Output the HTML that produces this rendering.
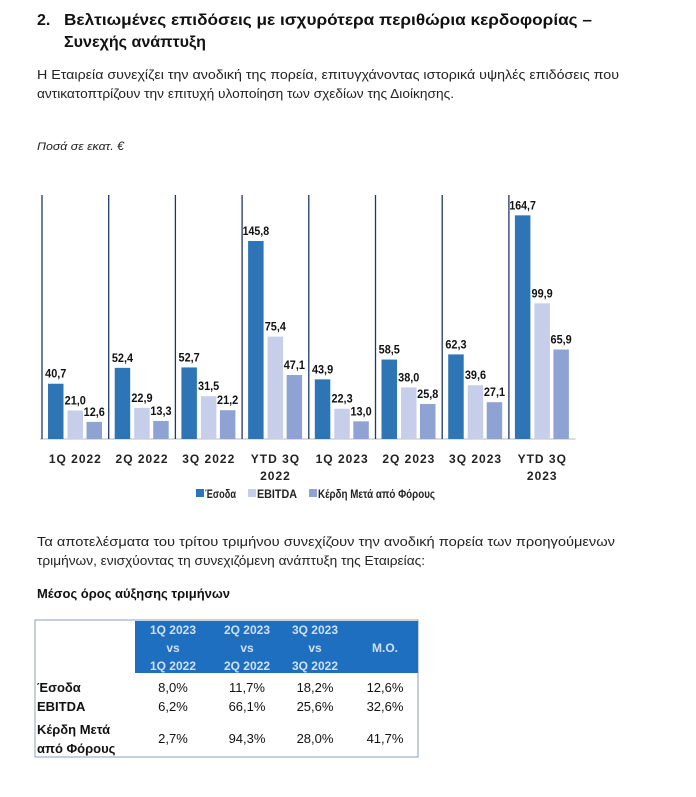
<!DOCTYPE html>
<html><head><meta charset="utf-8"><style>
body{margin:0;background:#fff}
svg{display:block}
text{font-family:"Liberation Sans",sans-serif}
.n{font-family:"Liberation Sans Narrow","Liberation Sans",sans-serif}
</style></head><body>
<svg id="c" width="696" height="797" viewBox="0 0 696 797" xmlns="http://www.w3.org/2000/svg">
<text x="37" y="25" font-size="16" font-weight="bold" fill="#111">2.</text>
<text x="64" y="25" font-size="16" font-weight="bold" fill="#111" textLength="528" lengthAdjust="spacingAndGlyphs">Βελτιωμένες επιδόσεις με ισχυρότερα περιθώρια κερδοφορίας –</text>
<text x="64" y="47" font-size="16" font-weight="bold" fill="#111" textLength="142" lengthAdjust="spacingAndGlyphs">Συνεχής ανάπτυξη</text>
<text x="37" y="79" font-size="12.5" fill="#222" textLength="582" lengthAdjust="spacingAndGlyphs">Η Εταιρεία συνεχίζει την ανοδική της πορεία, επιτυγχάνοντας ιστορικά υψηλές επιδόσεις που</text>
<text x="37" y="98" font-size="12.5" fill="#222" textLength="417" lengthAdjust="spacingAndGlyphs">αντικατοπτρίζουν την επιτυχή υλοποίηση των σχεδίων της Διοίκησης.</text>
<text x="37" y="150" font-size="11.5" font-style="italic" fill="#222" textLength="87" lengthAdjust="spacingAndGlyphs">Ποσά σε εκατ. €</text>
<g id="chart"></g>
<text x="37" y="546" font-size="12.5" fill="#222" textLength="578" lengthAdjust="spacingAndGlyphs">Τα αποτελέσματα του τρίτου τριμήνου συνεχίζουν την ανοδική πορεία των προηγούμενων</text>
<text x="37" y="565" font-size="12.5" fill="#222" textLength="388" lengthAdjust="spacingAndGlyphs">τριμήνων, ενισχύοντας τη συνεχιζόμενη ανάπτυξη της Εταιρείας:</text>
<text x="37" y="598" font-size="12.5" font-weight="bold" fill="#111" textLength="193" lengthAdjust="spacingAndGlyphs">Μέσος όρος αύξησης τριμήνων</text>
<g>
<rect x="35" y="620" width="383" height="137" fill="none" stroke="#8aa0c0" stroke-width="1"/>
<rect x="135" y="621" width="283" height="52" fill="#1f6fc0"/>
<g font-size="12" font-weight="bold" fill="#cfe0f5" text-anchor="middle">
<text x="173" y="634"><tspan x="173">1Q 2023</tspan><tspan x="173" dy="18">vs</tspan><tspan x="173" dy="18">1Q 2022</tspan></text>
<text x="247" y="634"><tspan x="247">2Q 2023</tspan><tspan x="247" dy="18">vs</tspan><tspan x="247" dy="18">2Q 2022</tspan></text>
<text x="315" y="634"><tspan x="315">3Q 2023</tspan><tspan x="315" dy="18">vs</tspan><tspan x="315" dy="18">3Q 2022</tspan></text>
<text x="385" y="652">M.O.</text>
</g>
<g font-size="13" fill="#111">
<text x="37" y="692" font-weight="bold">Έσοδα</text>
<text x="37" y="711" font-weight="bold">EBITDA</text>
<text x="37" y="734" font-weight="bold">Κέρδη Μετά</text>
<text x="37" y="753" font-weight="bold">από Φόρους</text>
<g text-anchor="middle">
<text x="173" y="692">8,0%</text><text x="247" y="692">11,7%</text><text x="315" y="692">18,2%</text><text x="385" y="692">12,6%</text>
<text x="173" y="711">6,2%</text><text x="247" y="711">66,1%</text><text x="315" y="711">25,6%</text><text x="385" y="711">32,6%</text>
<text x="173" y="743">2,7%</text><text x="247" y="743">94,3%</text><text x="315" y="743">28,0%</text><text x="385" y="743">41,7%</text>
</g></g></g>
</svg>
<script>
const categories=[["1Q 2022"],["2Q 2022"],["3Q 2022"],["YTD 3Q","2022"],["1Q 2023"],["2Q 2023"],["3Q 2023"],["YTD 3Q","2023"]];
const revenue=[40.7,52.4,52.7,145.8,43.9,58.5,62.3,164.7];
const ebitda=[21.0,22.9,31.5,75.4,22.3,38.0,39.6,99.9];
const profit=[12.6,13.3,21.2,47.1,13.0,25.8,27.1,65.9];
const seriesNames=["Έσοδα","EBITDA","Κέρδη Μετά από Φόρους"];
const NS="http://www.w3.org/2000/svg";
const g=document.getElementById('chart');
const x0=42,gw=66.7,base=439,k=1.358;
const y=v=>base-v*k;
const colors=["#2e75b6","#c6cee9","#8ea3d3"];
const offs=[6,25.5,44.5],bw=15.5;
function mk(t,a){const e=document.createElementNS(NS,t);for(const n in a)e.setAttribute(n,a[n]);g.appendChild(e);return e;}
let bl=mk('line',{x1:40,y1:base,x2:x0+gw*8,y2:base,stroke:'#bbb','stroke-width':1});


for(let i=0;i<8;i++){
 const l=mk('line',{x1:x0+gw*i,y1:195,x2:x0+gw*i,y2:base,stroke:'#1f3864','stroke-width':1.3});
 
 }
[revenue,ebitda,profit].forEach((s,si)=>{s.forEach((v,i)=>{
 const bx=x0+gw*i+offs[si];
 const r=mk('rect',{x:bx,y:y(v),width:bw,height:v*k,fill:colors[si]});
 
 
 const str=v.toFixed(1).replace('.',',');
 const t=mk('text',{x:bx+bw/2,y:y(v)-6,'text-anchor':'middle','font-size':12,'font-weight':'bold',fill:'#111',class:'n',textLength:str.length*5.3,lengthAdjust:'spacingAndGlyphs'});
 t.textContent=str;
 
 
});});
categories.forEach((c,i)=>{c.forEach((ln,j)=>{
 const t=mk('text',{x:x0+gw*i+gw/2,y:463+j*17,'text-anchor':'middle','font-size':12,'font-weight':'bold',fill:'#222',class:'n','letter-spacing':'1'});
 t.textContent=ln;
 
 
});});
const lx=[196,248,309],lw=[31,40,117];
seriesNames.forEach((n,i)=>{
 const r=mk('rect',{x:lx[i],y:489,width:8,height:8,fill:colors[i]});
 
 
 const t=mk('text',{x:lx[i]+9,y:498,'font-size':12,'font-weight':'bold',fill:'#222',class:'n',textLength:lw[i],lengthAdjust:'spacingAndGlyphs'});
 t.textContent=n;
 
 
});
</script>
</body></html>
